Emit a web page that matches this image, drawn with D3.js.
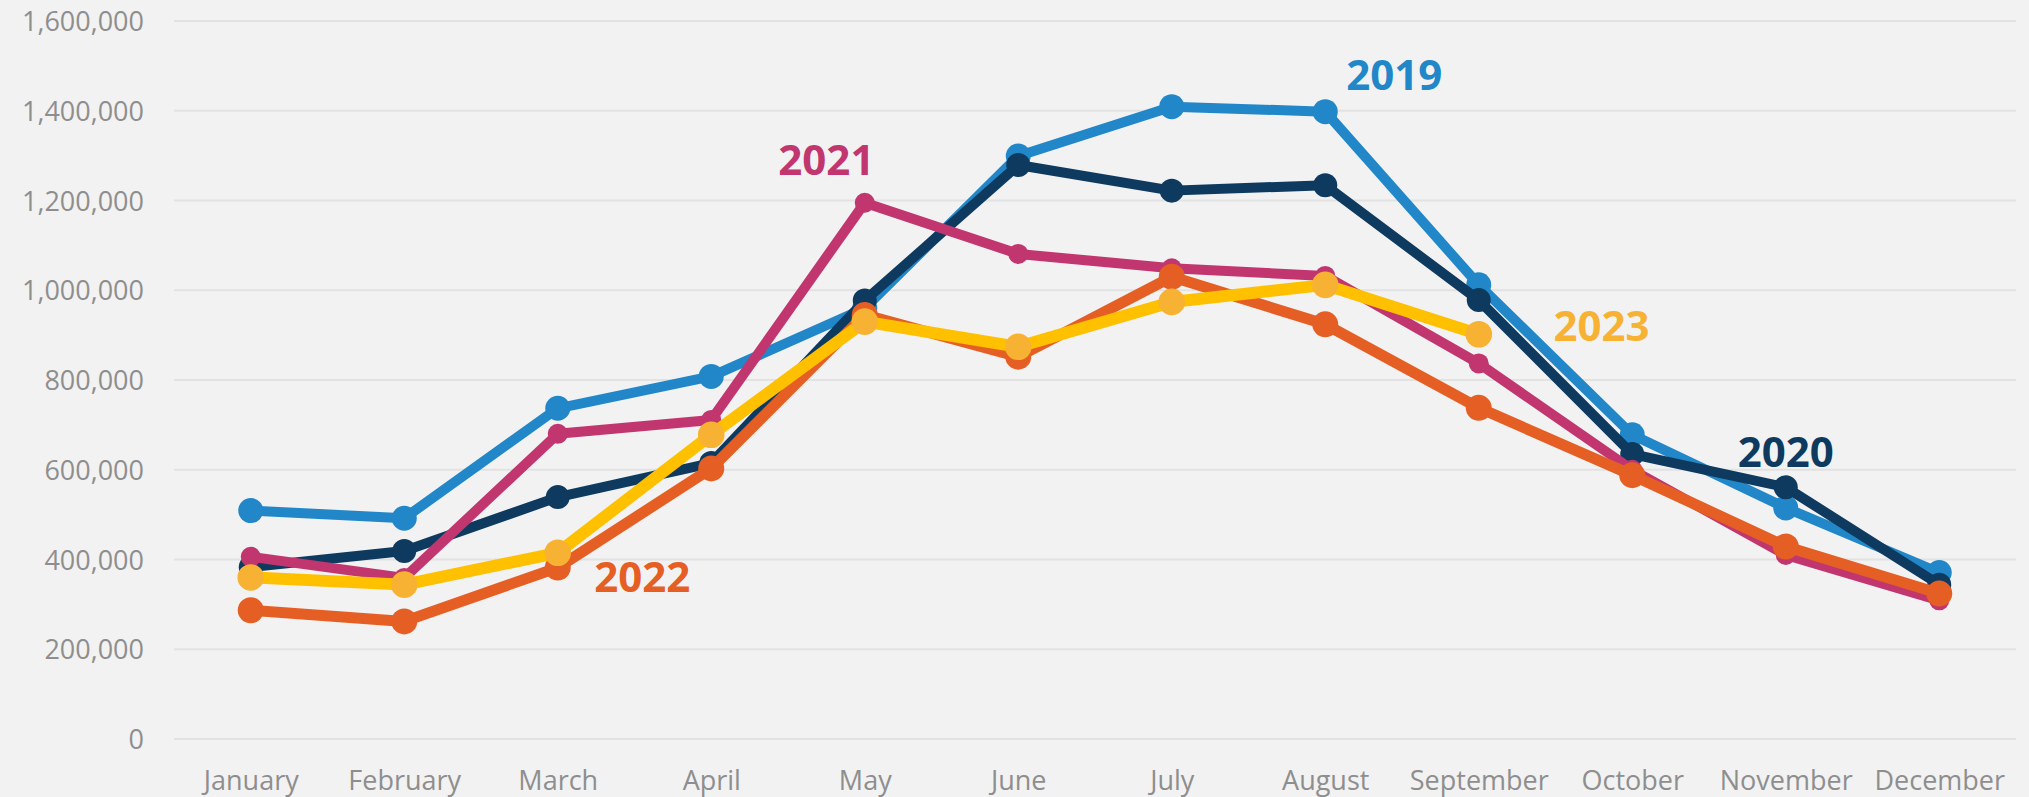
<!DOCTYPE html>
<html>
<head>
<meta charset="utf-8">
<script src="https://cdn.jsdelivr.net/npm/d3@7"></script>
<style>
  html, body { margin: 0; padding: 0; background: #f2f2f2; }
  svg { display: block; }
  .axis text { font-family: "Open Sans", sans-serif; fill: #8e8e8e; }
</style>
</head>
<body>
<svg id="chart" width="2029" height="797"></svg>
<script>
// months on the x axis
var months = ["January", "February", "March", "April", "May", "June",
              "July", "August", "September", "October", "November", "December"];

// y axis ticks
var yTicks = [0, 200000, 400000, 600000, 800000, 1000000, 1200000, 1400000, 1600000];

// monthly values per year
var v2019 = [509000, 492000, 737000, 808000, 960000, 1299000, 1409000, 1398000, 1012000, 678000, 515000, 371000];
var v2020 = [383000, 419000, 539000, 615000, 977000, 1279000, 1222000, 1234000, 978000, 635000, 561000, 344000];
var v2021 = [406000, 359000, 680000, 711000, 1195000, 1081000, 1049000, 1032000, 837000, 600000, 410000, 309000];
var v2022 = [287000, 262000, 382000, 603000, 945000, 852000, 1030000, 924000, 738000, 588000, 429000, 324000];
var v2023 = [360000, 344000, 415000, 678000, 930000, 874000, 974000, 1012000, 902000];

// series, drawn bottom to top
var series = [
  {name: "2019", values: v2019, line: "#2187c8", dot: "#2187c8", w: 10, r: 12.5, label: [7.45, 1480000]},
  {name: "2020", values: v2020, line: "#0e3a5f", dot: "#0e3a5f", w: 10, r: 12, label: [10, 640000]},
  {name: "2021", values: v2021, line: "#c1366f", dot: "#c1366f", w: 10, r: 10, label: [3.75, 1290000]},
  {name: "2022", values: v2022, line: "#e55f25", dot: "#e55f25", w: 11, r: 13, label: [2.55, 360000]},
  {name: "2023", values: v2023, line: "#ffc000", dot: "#f7b234", w: 12, r: 13.3, label: [8.8, 920000], labelColor: "#f7b234"}
];

var svg = d3.select("#chart"),
    margin = {top: 21, right: 13, bottom: 58, left: 174},
    width = +svg.attr("width") - margin.left - margin.right,
    height = +svg.attr("height") - margin.top - margin.bottom,
    g = svg.append("g").attr("transform", "translate(" + margin.left + "," + margin.top + ")");

var x = d3.scalePoint()
    .domain(months)
    .range([0, width])
    .padding(0.5);

var y = d3.scaleLinear()
    .domain([0, 1600000])
    .range([height, 0]);

// label position helper (fractional month index)
var xi = d3.scaleLinear()
    .domain([0, months.length - 1])
    .range([x(months[0]), x(months[months.length - 1])]);

// gridlines
g.append("g")
    .selectAll("line")
    .data(yTicks)
    .enter().append("line")
    .attr("x1", 0)
    .attr("x2", width)
    .attr("y1", function(d) { return y(d); })
    .attr("y2", function(d) { return y(d); })
    .attr("stroke", "#e2e2e2")
    .attr("stroke-width", 2);

// y axis
var yAxis = g.append("g")
    .attr("class", "axis")
    .attr("transform", "translate(-30,0)")
    .call(d3.axisLeft(y).tickValues(yTicks).tickFormat(d3.format(",")).tickSize(0).tickPadding(0));
yAxis.select(".domain").remove();
yAxis.selectAll("text").style("font-size", "27px").attr("dy", "0.36em");

// x axis
var xAxis = g.append("g")
    .attr("class", "axis")
    .attr("transform", "translate(0," + height + ")")
    .call(d3.axisBottom(x).tickSize(0).tickPadding(0));
xAxis.select(".domain").remove();
xAxis.selectAll("text").style("font-size", "27px").attr("y", 51).attr("dy", 0);

var line = d3.line()
    .x(function(d, i) { return x(months[i]); })
    .y(function(d) { return y(d); });

series.forEach(function(s) {
  var sg = g.append("g");

  sg.append("path")
      .datum(s.values)
      .attr("fill", "none")
      .attr("stroke", s.line)
      .attr("stroke-width", s.w)
      .attr("stroke-linejoin", "round")
      .attr("d", line);

  sg.selectAll("circle")
      .data(s.values)
      .enter().append("circle")
      .attr("cx", function(d, i) { return x(months[i]); })
      .attr("cy", function(d) { return y(d); })
      .attr("r", s.r)
      .attr("fill", s.dot);
});

// year labels
series.forEach(function(s) {
  g.append("text")
      .attr("x", xi(s.label[0]))
      .attr("y", y(s.label[1]))
      .attr("text-anchor", "middle")
      .attr("dy", "0.35em")
      .style("font-family", "'Open Sans', sans-serif")
      .style("font-weight", "bold")
      .style("font-size", "42px")
      .attr("fill", s.labelColor || s.line)
      .text(s.name);
});
</script>
</body>
</html>
